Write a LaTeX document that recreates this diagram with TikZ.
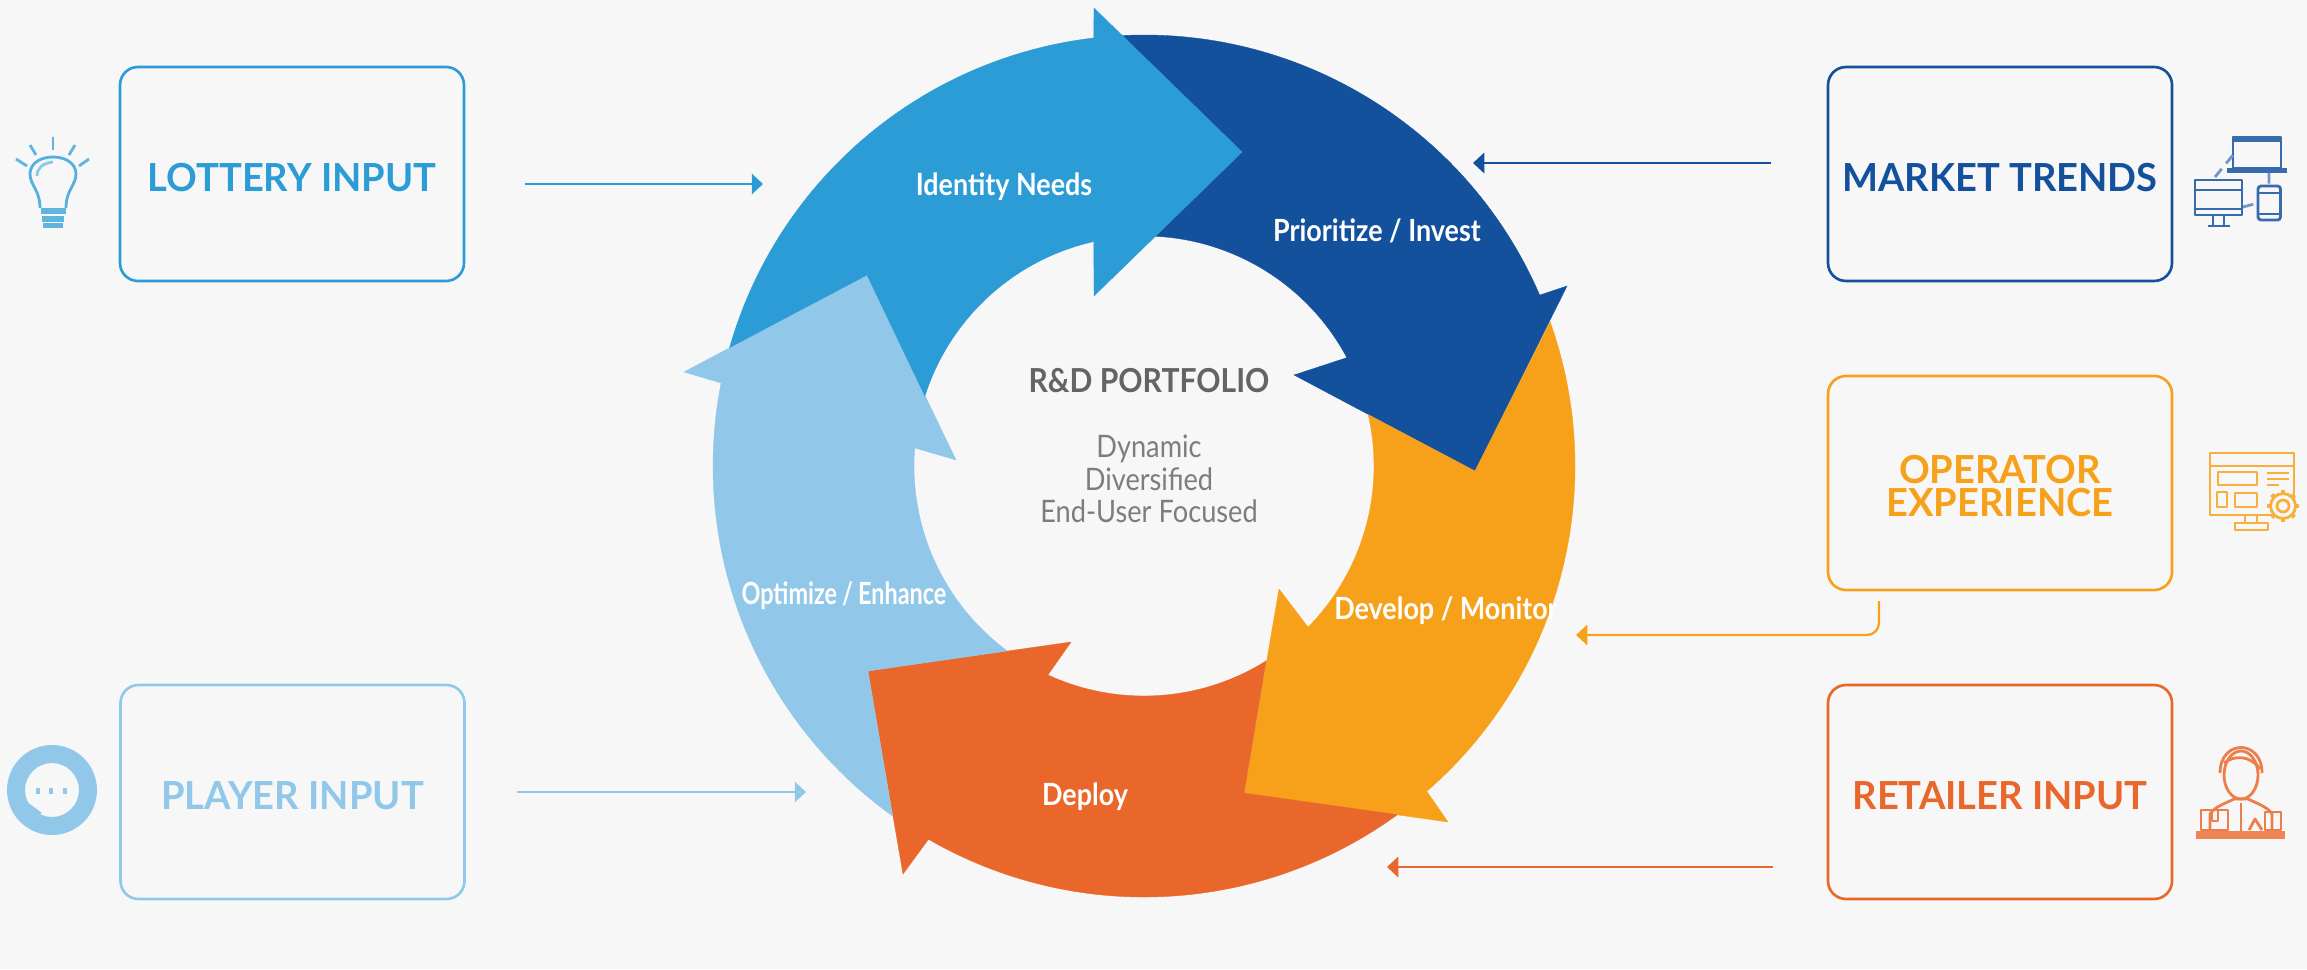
\documentclass[tikz,border=0pt]{standalone}
\usepackage{fontspec}
\setmainfont{Lato}
\newfontfamily\ringfont[FakeStretch=0.88]{Lato}
\newfontfamily\optimizefont[FakeStretch=0.765]{Lato}
\newfontfamily\portfoliofont[FakeStretch=0.91]{Lato}
\newfontfamily\boxfont[FakeStretch=0.985]{Lato}
\usepackage{xcolor}
\usetikzlibrary{arrows.meta}
\usetikzlibrary{positioning}
\definecolor{pagegrey}{RGB}{247,247,247}
\definecolor{lotteryblue}{RGB}{43,156,213}
\definecolor{marketblue}{RGB}{20,81,156}
\definecolor{operatororange}{RGB}{247,161,26}
\definecolor{retailerred}{RGB}{234,103,43}
\definecolor{playerblue}{RGB}{145,200,234}
\definecolor{textgrey}{RGB}{100,100,100}
\definecolor{lightgrey}{RGB}{125,125,125}
\newcommand{\Router}{4.31}
\newcommand{\Rinner}{2.30}
\newcommand{\widthbox}{3.44cm}
\newcommand{\heightbox}{2.14cm}
\newcommand{\boxtop}{\rule{0pt}{10pt}}
\tikzset{
    inputbox/.style={draw=#1, text=#1, line width=0.75pt, rounded corners=0.18cm,
        minimum width=\widthbox, minimum height=\heightbox, align=center,
        font=\boxfont\bfseries\fontsize{11}{9.4}\selectfont},
    feed/.style={draw=#1, line width=0.65pt, -{Triangle[length=3.2pt,width=5.8pt,fill=#1]}},
    ringarrow/.style={fill=#1, draw=#1, line width=0.1pt},
    steplabel/.style={text=white, font=\ringfont\bfseries\fontsize{8.7}{10}\selectfont},
    icon/.style={draw=#1, fill=none, line width=0.8pt, line join=round},
    iconfill/.style={fill=#1, draw=none},
}
\begin{document}
\begin{tikzpicture}
    \useasboundingbox[fill=pagegrey] (0,0) rectangle (23.07,9.69);

    % the ring, one arrow per step
    \begin{scope}[shift={(11.44,5.03)}]
        \path[ringarrow=marketblue] (92.9:\Router) arc[start angle=92.9, end angle=23.36, radius=\Router]
            -- (4.23,1.80) -- (3.31,-0.05) -- (1.50,0.91)
            -- (28.1:\Rinner) arc[start angle=28.1, end angle=87.1, radius=\Rinner]
            -- (0.98,3.14) -- cycle;
        \path[ringarrow=operatororange] (19.55:\Router) arc[start angle=19.55, end angle=-49, radius=\Router]
            -- (3.04,-3.56) -- (1.00,-3.27) -- (1.35,-1.23)
            -- (-44.5:\Rinner) arc[start angle=-44.5, end angle=12.9, radius=\Rinner]
            -- (3.31,-0.05) -- cycle;
        \path[ringarrow=retailerred] (-54:\Router) arc[start angle=-54, end angle=-120, radius=\Router]
            -- (-2.41,-4.08) -- (-2.76,-2.05) -- (-0.73,-1.76)
            -- (-114.7:\Rinner) arc[start angle=-114.7, end angle=-57.9, radius=\Rinner]
            -- (1.00,-3.27) -- cycle;
        \path[ringarrow=playerblue] (-125.7:\Router) arc[start angle=-125.7, end angle=-191.1, radius=\Router]
            -- (-4.60,0.94) -- (-2.77,1.91) -- (-1.88,0.06)
            -- (175.5:\Rinner) arc[start angle=175.5, end angle=233.5, radius=\Rinner]
            -- (-2.76,-2.05) -- cycle;
        \path[ringarrow=lotteryblue] (164.05:\Router) arc[start angle=164.05, end angle=96.7, radius=\Router]
            -- (-0.50,4.58) -- (0.98,3.14) -- (-0.50,1.70)
            -- (102.6:\Rinner) arc[start angle=102.6, end angle=162.3, radius=\Rinner]
            -- (-2.77,1.91) -- cycle;
    \end{scope}

    \node[steplabel] (identify) at (10.04,7.82) {Identity Needs};
    \node[steplabel] (prioritize) at (13.77,7.38) {Prioritize / Invest};
    \node[steplabel] (develop) at (14.46,3.58) {Develop / Monitor};
    \node[steplabel] (deploy) at (10.85,1.72) {Deploy};
    \node[steplabel, font=\optimizefont\bfseries\fontsize{8.7}{10}\selectfont] (optimize) at (8.44,3.73) {Optimize\,/\,Enhance};

    \node[text=textgrey, font=\portfoliofont\bfseries\fontsize{9.4}{10}\selectfont] (portfolio) at (11.49,5.88) {R\&D PORTFOLIO};
    \node[text=lightgrey, font=\ringfont\fontsize{8.8}{9.3}\selectfont, align=center] (traits) at (11.49,4.90)
        {Dynamic\\Diversified\\End-User Focused};

    % input boxes
    \node[inputbox=lotteryblue] (lottery) at (2.92,7.95) {\boxtop LOTTERY INPUT};
    \node[inputbox=playerblue] (player) at (2.925,1.77) {\boxtop PLAYER INPUT};
    \node[inputbox=marketblue] (market) at (20.00,7.95) {\boxtop MARKET TRENDS};
    \node[inputbox=operatororange] (operator) at (20.00,4.86) {\boxtop OPERATOR\\EXPERIENCE};
    \node[inputbox=retailerred] (retailer) at (20.00,1.77) {\boxtop RETAILER INPUT};

    % feeds into the ring
    \coordinate (lotteryfrom) at (5.25,7.85);
    \coordinate (lotteryto) at (7.63,7.85);
    \coordinate (playerfrom) at (5.17,1.77);
    \coordinate (playerto) at (8.06,1.77);
    \coordinate (marketfrom) at (17.71,8.06);
    \coordinate (marketto) at (14.73,8.06);
    \coordinate (retailerfrom) at (17.73,1.02);
    \coordinate (retailerto) at (13.87,1.02);
    \coordinate (operatorfrom) at (18.79,3.68);
    \coordinate (operatorto) at (15.76,3.34);
    \draw[feed=lotteryblue] (lotteryfrom) -- (lotteryto);
    \draw[feed=playerblue] (playerfrom) -- (playerto);
    \draw[feed=marketblue] (marketfrom) -- (marketto);
    \draw[feed=retailerred] (retailerfrom) -- (retailerto);
    \draw[feed=operatororange, rounded corners=0.12cm] (operatorfrom) |- (operatorto);

    % bulb
    \begin{scope}[shift={(0.53,7.91)}]
        \draw[icon=lotteryblue!80!white] (-0.13,-0.30) .. controls (-0.13,-0.12) and (-0.23,-0.07) .. (-0.23,0.04)
            .. controls (-0.23,0.15) and (-0.12,0.21) .. (0,0.21)
            .. controls (0.12,0.21) and (0.23,0.15) .. (0.23,0.04)
            .. controls (0.23,-0.07) and (0.13,-0.12) .. (0.13,-0.30);
        \draw[icon=lotteryblue!55!white] (-0.16,0.02) .. controls (-0.16,0.10) and (-0.10,0.15) .. (0,0.16);
        \fill[iconfill=lotteryblue!75!white] (-0.125,-0.30) rectangle (0.125,-0.36);
        \fill[iconfill=lotteryblue!75!white] (-0.11,-0.38) rectangle (0.11,-0.44);
        \fill[iconfill=lotteryblue!75!white] (-0.10,-0.45) rectangle (0.10,-0.50);
        \foreach \x/\y/\u/\v in {0/0.41/0/0.28, -0.23/0.33/-0.17/0.23, 0.22/0.33/0.16/0.23, -0.37/0.19/-0.26/0.12, 0.36/0.19/0.26/0.12}
            \draw[icon=lotteryblue!75!white] (\x,\y) -- (\u,\v);
    \end{scope}

    % chat bubble
    \path[iconfill=playerblue, even odd rule] (0.52,1.79) circle[radius=0.45]
        (0.52,1.79) circle[radius=0.27];
    \fill[iconfill=playerblue] (0.27,1.67) -- (0.26,1.49) -- (0.42,1.56) -- cycle;
    \foreach \x in {0.38,0.51,0.65}
        \fill[iconfill=playerblue] (\x-0.02,1.75) rectangle (\x+0.02,1.81);

    % devices
    \draw[icon=marketblue!85!white] (22.33,8.01) rectangle (22.81,8.32);
    \fill[iconfill=marketblue!85!white] (22.27,7.96) rectangle (22.87,8.01);
    \fill[iconfill=marketblue!85!white] (22.33,8.27) rectangle (22.81,8.32);
    \draw[icon=marketblue!85!white] (21.95,7.54) rectangle (22.42,7.89);
    \draw[icon=marketblue!85!white] (21.95,7.79) -- (22.42,7.79) (21.95,7.60) -- (22.42,7.60);
    \draw[icon=marketblue!85!white] (22.13,7.54) -- (22.13,7.44) (22.24,7.54) -- (22.24,7.44) (22.08,7.43) -- (22.30,7.43);
    \draw[icon=marketblue!85!white, rounded corners=0.03cm] (22.58,7.49) rectangle (22.805,7.83);
    \draw[icon=marketblue!85!white] (22.58,7.76) -- (22.805,7.76) (22.58,7.55) -- (22.805,7.55);
    \draw[icon=marketblue!60!white, densely dashed] (22.15,7.92) -- (22.33,8.14) (22.69,7.96) -- (22.69,7.83) (22.43,7.62) -- (22.58,7.66);

    % screen and gear
    \begin{scope}[every path/.append style={icon=operatororange!85!white}]
        \draw (22.10,4.54) rectangle (22.94,5.16);
        \draw (22.10,5.03) -- (22.94,5.03);
        \draw (22.18,4.84) rectangle (22.57,4.97);
        \draw (22.17,4.62) rectangle (22.27,4.77);
        \draw (22.35,4.62) rectangle (22.57,4.76);
        \draw (22.67,4.96) -- (22.89,4.96) (22.67,4.90) -- (22.89,4.90) (22.67,4.84) -- (22.79,4.84);
        \draw (22.45,4.54) -- (22.45,4.46) (22.57,4.54) -- (22.57,4.46);
        \draw (22.35,4.39) rectangle (22.68,4.46);
        \draw[fill=pagegrey] (22.83,4.63) circle[radius=0.125];
        \draw (22.83,4.63) circle[radius=0.06];
        \foreach \a in {0,45,...,315}
            \draw[line width=1.2pt] (22.83,4.63) ++(\a:0.125) -- ++(\a:0.035);
    \end{scope}

    % retailer at desk
    \begin{scope}[every path/.append style={icon=retailerred!85!white}]
        \draw (22.41,1.94) ellipse[x radius=0.17, y radius=0.24];
        \draw (22.20,1.96) .. controls (22.20,2.30) and (22.62,2.30) .. (22.62,1.96);
        \draw (22.24,2.06) .. controls (22.34,2.14) and (22.50,2.14) .. (22.60,2.00);
        \draw (22.10,1.38) -- (22.10,1.55) .. controls (22.14,1.62) and (22.26,1.66) .. (22.34,1.70)
            -- (22.48,1.70) .. controls (22.56,1.66) and (22.68,1.62) .. (22.72,1.55) -- (22.72,1.38);
        \draw (22.41,1.66) -- (22.41,1.38);
        \draw (22.01,1.39) rectangle (22.28,1.59);
        \draw (22.12,1.59) -- (22.12,1.48) -- (22.18,1.48) -- (22.18,1.59);
        \draw (22.49,1.39) -- (22.55,1.50) -- (22.62,1.39);
        \draw (22.65,1.39) rectangle (22.81,1.57);
    \end{scope}
    \fill[iconfill=retailerred!80!white] (21.96,1.30) rectangle (22.85,1.38);
\end{tikzpicture}
\end{document}
